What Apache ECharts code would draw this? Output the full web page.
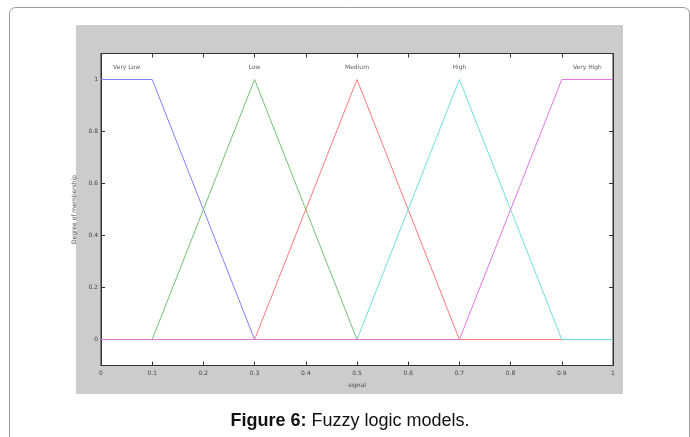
<!DOCTYPE html>
<html>
<head>
<meta charset="utf-8">
<script src="https://cdn.jsdelivr.net/npm/echarts@6/dist/echarts.min.js"></script>
<style>
  html, body { margin: 0; padding: 0; background: #fff; }
  #chart { width: 690px; height: 437px; }
</style>
</head>
<body>
<div id="chart"></div>
<script>
// membership functions, [signal, degree]
const veryLow = [[0, 1], [0.1, 1], [0.3, 0], [1, 0]];
const low = [[0, 0], [0.1, 0], [0.3, 1], [0.5, 0], [1, 0]];
const medium = [[0, 0], [0.3, 0], [0.5, 1], [0.7, 0], [1, 0]];
const high = [[0, 0], [0.5, 0], [0.7, 1], [0.9, 0], [1, 0]];
const veryHigh = [[0, 0], [0.7, 0], [0.9, 1], [1, 1]];

const mfNames = ["Very Low", "Low", "Medium", "High", "Very High"];
const mfLabelX = [0.05, 0.3, 0.5, 0.7, 0.95];
const mfLabelY = 1.047;

const yTicks = [0, 0.2, 0.4, 0.6, 0.8, 1];

const chart = echarts.init(document.getElementById("chart"));

const tickStyle = { show: true, inside: true, length: 4, lineStyle: { color: "#333", width: 1 } };
const labelStyle = { color: "#444", fontSize: 6, fontFamily: "DejaVu Sans" };
const axisLine = { show: true, onZero: false, lineStyle: { color: "#333" } };

function line(name, data, color) {
  return {
    name: name,
    type: "line",
    data: data,
    showSymbol: false,
    lineStyle: { color: color, width: 1 },
    itemStyle: { color: color },
    animation: false
  };
}

chart.setOption({
  animation: false,
  backgroundColor: "#fff",
  graphic: [
    {
      type: "rect", z: -10,
      shape: { x: 9.5, y: 7.5, width: 680, height: 440, r: 6 },
      style: { fill: "#fff", stroke: "#9a9a9a", lineWidth: 1 }
    },
    {
      type: "rect", z: -9,
      shape: { x: 76, y: 25, width: 547, height: 369 },
      style: { fill: "#cccccc" }
    },
    {
      type: "text",
      x: 350, y: 421,
      style: {
        text: "{b|Figure 6:} Fuzzy logic models.",
        align: "center",
        verticalAlign: "middle",
        fontSize: 18,
        fontFamily: "Liberation Sans",
        fill: "#111",
        rich: { b: { fontWeight: "bold", fontSize: 18, fontFamily: "Liberation Sans", fill: "#111" } }
      }
    }
  ],
  grid: {
    left: 101, top: 53.5, width: 512, height: 312,
    show: true, backgroundColor: "#fff", borderColor: "#333", borderWidth: 1
  },
  xAxis: [
    {
      type: "value", min: 0, max: 1, interval: 0.1, position: "bottom",
      name: "signal", nameLocation: "middle", nameGap: 17,
      nameTextStyle: labelStyle,
      axisLine: axisLine,
      axisTick: tickStyle,
      axisLabel: Object.assign({ margin: 5, formatter: v => String(+v.toFixed(1)) }, labelStyle),
      splitLine: { show: false }
    },
    {
      type: "value", min: 0, max: 1, interval: 0.1, position: "top",
      axisLine: axisLine,
      axisTick: tickStyle,
      axisLabel: { show: false },
      splitLine: { show: false }
    }
  ],
  yAxis: [
    {
      type: "value", min: -0.1, max: 1.1, position: "left",
      name: "Degree of membership", nameLocation: "middle", nameGap: 17, nameRotate: 90,
      nameTextStyle: labelStyle,
      axisLine: axisLine,
      axisTick: Object.assign({ customValues: yTicks }, tickStyle),
      axisLabel: Object.assign({ customValues: yTicks, margin: 3, formatter: v => String(+v.toFixed(1)) }, labelStyle),
      splitLine: { show: false }
    },
    {
      type: "value", min: -0.1, max: 1.1, position: "right",
      axisLine: axisLine,
      axisTick: Object.assign({ customValues: yTicks }, tickStyle),
      axisLabel: { show: false },
      splitLine: { show: false }
    }
  ],
  series: [
    line("Very Low", veryLow, "#7f7fff"),
    line("Low", low, "#74c274"),
    line("Medium", medium, "#ff7a7a"),
    line("High", high, "#6fdede"),
    line("Very High", veryHigh, "#e277e2"),
    {
      type: "scatter",
      symbolSize: 0,
      data: mfNames.map((n, i) => ({ value: [mfLabelX[i], mfLabelY], name: n })),
      label: {
        show: true, position: "inside", formatter: p => p.name,
        color: "#333", fontSize: 6, fontFamily: "DejaVu Sans"
      },
      silent: true,
      animation: false
    }
  ]
});
</script>
</body>
</html>
